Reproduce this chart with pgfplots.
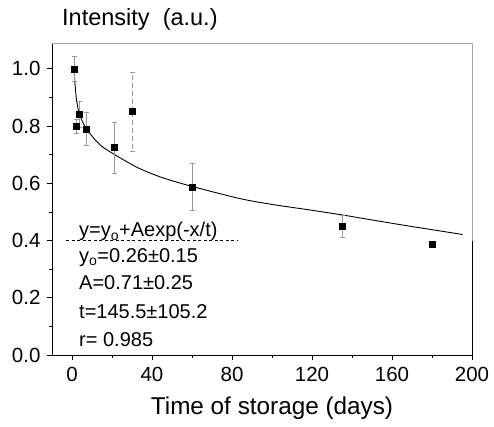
\documentclass[border=0pt]{standalone}
\usepackage{fontspec}
\setmainfont{Liberation Sans}
\usepackage{pgfplots}
\pgfplotsset{compat=1.18}
\begin{document}
\begin{tikzpicture}
\useasboundingbox (-52pt,-72pt) rectangle (442pt,355pt);
\begin{axis}[
  scale only axis, width=420pt, height=312pt,
  at={(0,0)}, anchor=south west,
  xmin=-10, xmax=200, ymin=0, ymax=1.09,
  axis x line*=bottom, axis y line*=left,
  axis line style={black, line width=0.8pt, -},
  xtick={0,40,80,120,160,200}, minor xtick={20,60,100,140,180},
  ytick={0,0.2,0.4,0.6,0.8,1.0}, minor ytick={0.1,0.3,0.5,0.7,0.9},
  tick align=outside, major tick length=5pt, minor tick length=3pt,
  tick style={black, line width=0.6pt},
  yticklabel style={xshift=-3pt, /pgf/number format/.cd, fixed, fixed zerofill, precision=1},
  xticklabel style={yshift=-4pt},
  /pgf/number format/assume math mode=true,
  ticklabel style={font=\fontsize{20.5}{22}\selectfont},
  clip=false,
]
\draw[gray!70, line width=0.8pt] (axis cs:-10,1.09) -- (axis cs:200,1.09) -- (axis cs:200,0.4);
\draw[black, line width=0.8pt] (axis cs:200,0.4) -- (axis cs:200,0);
% fit curve
\addplot[black, line width=0.9pt, smooth, tension=0.5] coordinates {
(1,1.0)(1.5,0.948)(2.3,0.89)(3.65,0.843)(6.15,0.803)(10.3,0.762)(15.3,0.727)(24.5,0.687)(33.6,0.652)(45,0.62)(59.5,0.59)(83.6,0.547)(100,0.526)(118.6,0.507)(135.3,0.489)(163.6,0.456)(195.3,0.421)
};
% error bars
\addplot[only marks, mark=none, gray!80, line width=0.6pt,
  error bars/.cd, y dir=both, y explicit, error bar style={gray!80, line width=0.6pt}, error mark options={rotate=90, mark size=2.5pt, gray!80}]
coordinates {
(1,1.0) +- (0,0.045)
(2,0.80) +- (0,0.025)
(3.8,0.84) +- (0,0.045)
(7,0.79) +- (0,0.058)
(21,0.725) +- (0,0.09)
(60,0.587) +- (0,0.082)
(135,0.45) +- (0,0.037)
};
\addplot[only marks, mark=none, gray!80,
  error bars/.cd, y dir=both, y explicit, error bar style={gray!80, line width=0.6pt, dash pattern=on 5pt off 3pt}, error mark options={rotate=90, mark size=2.5pt, gray!80}]
coordinates {
(30,0.85) +- (0,0.138)
};
% data
\addplot[only marks, mark=square*, mark size=3pt, black] coordinates {
(1,1.0)(2,0.80)(3.8,0.84)(7,0.79)(21,0.725)(30,0.85)(60,0.587)(135,0.45)(180,0.387)
};
% dashed separator
\addplot[black, dash pattern=on 3pt off 2.5pt, line width=0.7pt] coordinates {(-2.8,0.4)(83,0.4)};
% annotations
\node[anchor=base west, inner sep=0pt, font=\fontsize{20}{22}\selectfont] at ([xshift=27pt,yshift=118pt]rel axis cs:0,0) {y=y\textsubscript{o}+Aexp(-x/t)};
\node[anchor=base west, inner sep=0pt, font=\fontsize{20}{22}\selectfont] at ([xshift=27pt,yshift=92.3pt]rel axis cs:0,0) {y\textsubscript{o}=0.26±0.15};
\node[anchor=base west, inner sep=0pt, font=\fontsize{20}{22}\selectfont] at ([xshift=27pt,yshift=65pt]rel axis cs:0,0) {A=0.71±0.25};
\node[anchor=base west, inner sep=0pt, font=\fontsize{20}{22}\selectfont] at ([xshift=27pt,yshift=36pt]rel axis cs:0,0) {t=145.5±105.2};
\node[anchor=base west, inner sep=0pt, font=\fontsize{20}{22}\selectfont] at ([xshift=27pt,yshift=8.3pt]rel axis cs:0,0) {r= 0.985};
% title and x label
\node[anchor=west, inner sep=0pt, font=\fontsize{23.5}{25}\selectfont] at ([xshift=10pt,yshift=24pt]rel axis cs:0,1) {Intensity\ \ (a.u.)};
\node[anchor=center, inner sep=0pt, font=\fontsize{24.3}{26}\selectfont] at ([yshift=-53pt]axis cs:100,0) {Time of storage (days)};
\end{axis}
\end{tikzpicture}
\end{document}
